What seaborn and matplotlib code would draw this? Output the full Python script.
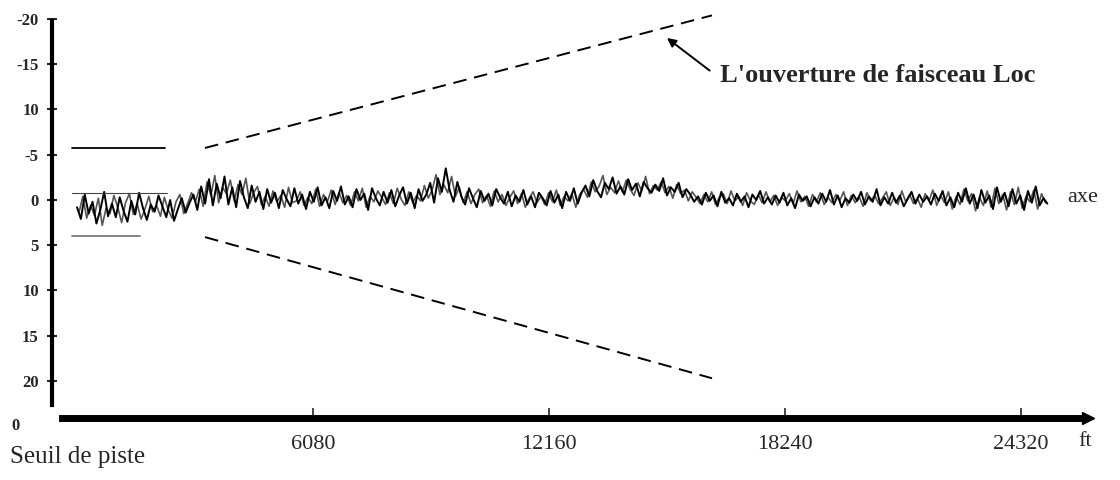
import numpy as np
import pandas as pd
import matplotlib
matplotlib.use('Agg')
import matplotlib.pyplot as plt
import seaborn as sns

# distance (ft) et écart (unités de l'axe, positif = vers le bas)
dist_a = list(range(0, 25001, 100))
ecart_a = [
    0.8, 2.1, -0.6, 1.5, 0.2, 2.6, 1.1, -0.9, 1.8, 0.4,
    1.9, -0.3, 1.2, 2.4, 0.1, 1.6, -0.8, 0.9, 2.2, 0.5,
    1.3, -0.5, 0.7, 1.9, 0.0, 2.3, 1.0, -0.2, 1.4, 0.3,
    -0.6, 1.1, -1.5, 0.4, -2.3, 0.6, -1.8, -0.2, -2.6, 0.5,
    -1.4, 0.8, -2.1, -0.3, 0.9, -1.6, 0.2, -0.9, 1.0, -1.2,
    0.3, -0.8, 0.9, -1.1, -0.1, 0.7, -1.3, 0.4, -0.6, 1.0,
    -0.9, 0.2, -1.4, 0.6, -0.3, 0.9, -1.0, 0.1, -1.5, 0.5,
    -0.4, 0.8, -1.2, 0.0, -0.7, 1.1, -1.3, -0.2, 0.6, -0.9,
    0.3, -1.1, 0.7, -0.5, -1.4, 0.4, -0.8, 0.9, -1.2, 0.1,
    -0.6, -1.9, 0.3, -2.4, -0.9, -3.5, -1.1, 0.2, -2.0, -0.4,
    0.5, -1.3, -0.2, 0.8, -1.0, 0.1, -0.7, 0.6, -1.2, -0.3,
    0.4, -0.9, 0.7, -0.5, 0.2, -1.1, 0.5, -0.4, 0.8, -0.8,
    -0.2, 0.6, -1.0, 0.3, -0.6, 0.9, -0.9, 0.1, -1.3, 0.4,
    -0.8, -1.6, -0.4, -2.2, -1.0, -0.3, -1.9, -1.2, -2.5, -0.7,
    -1.5, -0.6, -2.3, -1.1, -1.8, -0.4, -2.0, -1.3, -0.8, -1.7,
    -1.0, -2.4, -0.5, -1.4, -0.9, -1.9, -0.3, -1.2, -0.6, 0.2,
    -0.4, 0.5, -0.8, 0.1, -0.5, 0.7, -0.9, 0.3, -0.2, 0.6,
    -0.7, 0.2, -0.4, 0.8, -0.6, 0.0, -1.0, 0.4, -0.3, 0.5,
    -0.5, 0.3, -0.8, 0.6, -0.2, 0.9, -0.6, 0.1, -0.4, 0.7,
    -0.3, 0.4, -0.7, 0.2, -1.1, 0.5, -0.5, 0.8, -0.2, 0.3,
    -0.6, 0.1, -0.9, 0.5, -0.4, 0.2, -1.2, 0.6, -0.3, 0.4,
    -0.8, 0.3, -0.5, 0.7, -0.1, -0.9, 0.4, -0.6, 0.2, -0.4,
    0.5, -0.7, 0.1, -1.0, 0.6, -0.3, 0.8, -0.8, 0.2, -1.3,
    0.4, -0.6, 0.9, -1.1, 0.3, -0.5, 1.0, -1.4, 0.2, -0.8,
    0.7, -1.2, 0.4, -0.5, 1.1, -1.0, 0.3, -1.5, 0.6, -0.2,
    0.4,
]
dist_b = list(range(50, 25000, 100))
ecart_b = [
    1.4, -0.4, 2.0, 0.6, 1.7, -0.2, 2.8, 0.9, 1.5, -0.5,
    0.8, 2.5, 0.3, -0.7, 1.6, 0.4, 2.1, 1.0, -0.4, 1.3,
    0.6, 1.8, -0.3, 1.1, 2.0, 0.2, -0.6, 1.5, 0.4, -0.8,
    0.2, -1.2, 0.7, -2.0, -0.5, -2.7, 0.3, -1.4, -0.7, -2.2,
    0.1, -1.7, -0.6, -2.4, 0.4, -0.8, -1.5, 0.5, -0.4, 0.7,
    -1.0, 0.2, -0.5, 0.8, -1.4, 0.3, 0.1, -0.9, 0.6, -0.3,
    0.4, -1.2, 0.7, -0.6, 0.2, -1.1, 0.5, -0.8, 0.3, -0.5,
    0.6, -0.9, 0.1, -1.3, 0.8, -0.4, 0.2, -1.0, -0.3, 0.5,
    -0.8, 0.4, -1.3, -0.1, 0.6, -0.9, 0.3, -0.5, 0.1, -1.6,
    -0.2, -1.1, -2.8, -0.6, -1.7, -0.8, -2.6, -0.4, -1.4, 0.3,
    -0.9, 0.4, -0.6, -1.2, 0.3, -0.5, 0.7, -1.0, 0.2, -0.6,
    0.6, -0.3, -1.0, 0.4, -0.7, 0.8, -0.2, -0.9, 0.3, -0.4,
    0.5, -0.8, 0.2, -1.1, 0.6, -0.4, 0.1, -0.7, 0.8, -0.6,
    -1.2, -0.3, -2.0, -0.9, -1.5, -2.7, -0.6, -1.4, -0.8, -2.1,
    -0.9, -2.2, -1.2, -0.5, -1.9, -1.0, -2.6, -0.7, -1.6, -1.1,
    -2.0, -0.8, -1.5, -0.2, -1.7, -0.7, -1.1, 0.1, -0.9, -0.3,
    0.4, -0.6, 0.2, -0.9, 0.5, -0.3, -0.7, 0.4, -1.0, 0.1,
    -0.4, 0.6, -0.8, 0.1, 0.5, -0.6, 0.3, -0.9, 0.2, -0.5,
    0.6, -0.3, 0.1, -0.7, 0.4, -1.0, 0.2, -0.4, 0.7, -0.6,
    0.2, -0.8, 0.5, -0.3, 0.3, -0.6, 0.1, -0.9, 0.6, -0.5,
    0.3, -0.4, 0.7, -0.8, 0.1, -0.5, 0.4, -0.2, -0.9, 0.6,
    -0.3, 0.5, -1.0, 0.2, -0.6, 0.4, -0.2, 0.8, -0.7, 0.1,
    -1.1, 0.6, -0.5, 0.3, -0.9, 1.0, -0.4, 0.5, -1.2, 0.1,
    -0.7, 1.2, -0.3, 0.6, -1.0, 0.8, -1.3, 0.4, -0.6, 1.1,
    -0.9, 0.5, -1.4, 0.9, -0.4, 0.2, -1.1, 1.0, -0.7, 0.3,
]

# limites du faisceau Loc
seuil_x = [-130, 2280]
seuil_haut = [-5.75, -5.75]
seuil_bas_x = [-130, 1620]
seuil_bas = [4.0, 4.0]
axe_x = [-130, 2330]
axe_y = [-0.8, -0.8]
faisceau_x = [3298, 16360]
faisceau_haut = [-5.75, -20.4]
faisceau_bas = [4.1, 19.7]

x_ticks = [6080, 12160, 18240, 24320]
x_labels = ['6080', '12160', '18240', '24320']
y_ticks = [-20, -15, -10, -5, 0, 5, 10, 15, 20]
y_labels = ['-20', '-15', '10', '-5', '0', '5', '10', '15', '20']

sns.set_theme(style='white')
plt.rcParams['font.family'] = ['Liberation Serif', 'DejaVu Serif']

fig = plt.figure(figsize=(11.2, 4.8), dpi=100)
ax = fig.add_axes([52 / 1120, 62 / 480, 1 - 52 / 1120, 1 - 62 / 480])

df_b = pd.DataFrame({'x': dist_b, 'y': ecart_b})
df_a = pd.DataFrame({'x': dist_a, 'y': ecart_a})
sns.lineplot(data=df_b, x='x', y='y', ax=ax, color='#555555', lw=1.2, estimator=None)
sns.lineplot(data=df_a, x='x', y='y', ax=ax, color='black', lw=1.4, estimator=None)

ax.plot(seuil_x, seuil_haut, color='black', lw=1.3)
ax.plot(seuil_bas_x, seuil_bas, color='#777777', lw=1.3)
ax.plot(axe_x, axe_y, color='#444444', lw=0.8)
ax.plot(faisceau_x, faisceau_haut, color='black', lw=1.4, ls=(0, (7, 4)))
ax.plot(faisceau_x, faisceau_bas, color='black', lw=1.4, ls=(0, (7, 4)))

ax.text(16565, -13.8, "L'ouverture de faisceau Loc", fontsize=19, fontweight='bold',
        ha='left', va='center')
ax.annotate('', xy=(15200, -17.9), xytext=(16300, -14.3),
            arrowprops=dict(arrowstyle='-|>', color='black', lw=1.4,
                            shrinkA=0, shrinkB=0, mutation_scale=13))
ax.text(25500, -0.3, 'axe', fontsize=16, ha='left', va='center')

ax.set_xlim(-644, 26871)
ax.set_ylim(24.09, -22.1)
ax.set_xlabel('')
ax.set_ylabel('')

for s in ['top', 'right']:
    ax.spines[s].set_visible(False)
ax.spines['left'].set_linewidth(3)
ax.spines['left'].set_color('black')
ax.spines['left'].set_bounds(-19.8, 22.6)
ax.spines['bottom'].set_linewidth(5)
ax.spines['bottom'].set_color('black')
ax.spines['bottom'].set_bounds(-386, 25900)
ax.plot([26050], [24.09], marker='>', color='black', ms=8, clip_on=False)

ax.set_yticks(y_ticks, y_labels, fontweight='bold', fontsize=12)
ax.set_xticks(x_ticks, x_labels, fontsize=16)
ax.tick_params(axis='y', direction='inout', length=7, width=1.5, pad=6, left=True)
ax.tick_params(axis='x', direction='in', length=7, width=1.2, pad=12, bottom=True)

fig.text(15 / 1120, 1 - 426 / 480, '0', fontsize=12, fontweight='bold', ha='center', va='center')
fig.text(10 / 1120, 1 - 457 / 480, 'Seuil de piste', fontsize=18, ha='left', va='center')
fig.text(1078 / 1120, 1 - 442 / 480, 'ft', fontsize=16, ha='left', va='center')

fig.savefig('out.png', dpi=100)
